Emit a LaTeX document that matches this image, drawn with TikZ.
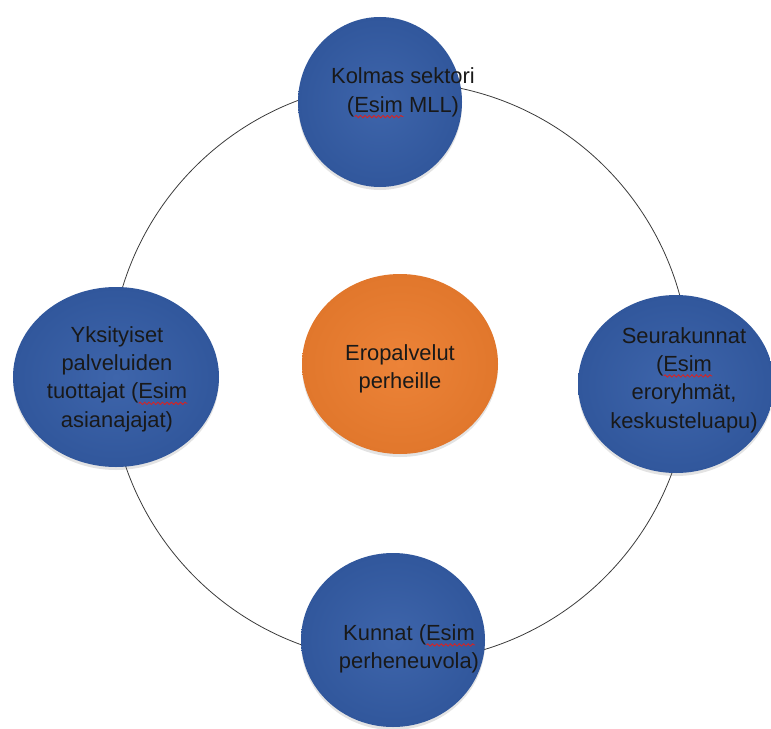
\documentclass[tikz,border=0pt]{standalone}
\usepackage{fontspec}
\setmainfont{Liberation Sans}
\usetikzlibrary{shapes.geometric,shadows,decorations.pathmorphing}

\definecolor{blobin}{HTML}{3E65AB}
\definecolor{blobout}{HTML}{31579C}
\definecolor{orangein}{HTML}{EC8338}
\definecolor{orangeout}{HTML}{E1772C}
\definecolor{ringgray}{HTML}{3A3A3A}
\definecolor{spellred}{HTML}{E0201C}

% red wavy underline
\newsavebox\swbox
\newcommand\sw[1]{\sbox\swbox{#1}%
  \rlap{\tikz[x=1pt,y=1pt,baseline=4.5pt]\draw[spellred,line width=.8pt,decorate,
    decoration={snake,amplitude=1.2pt,segment length=4.5pt}] (0,0) -- (\the\wd\swbox,0);}%
  \usebox\swbox}

\tikzset{
  blob/.style={ellipse,shade,inner color=blobin,outer color=blobout,
    drop shadow={shadow xshift=0bp,shadow yshift=-3bp,opacity=.22}},
  hub/.style={blob,inner color=orangein,outer color=orangeout},
  txt/.style={align=center,font=\fontsize{22}{28.5}\selectfont,text=black!90}
}

\begin{document}
\begin{tikzpicture}[x=1bp,y=-1bp]
\useasboundingbox (0,0) rectangle (771,729);

\node[draw=ringgray,line width=.8pt,circle,minimum size=580bp] (ring) at (400,372) {};

\node[blob,minimum width=164bp,minimum height=170bp] (kolmas) at (380,102) {};
\node[blob,minimum width=196bp,minimum height=178bp] (seura) at (676,384) {};
\node[blob,minimum width=206bp,minimum height=180bp] (yksit) at (116,377) {};
\node[blob,minimum width=184bp,minimum height=174bp] (kunnat) at (393,640) {};
\node[hub,minimum width=196bp,minimum height=180bp] (ero) at (400,364) {};

\node[txt] (kolmas-t) at (403,93) {Kolmas sektori\\(\sw{Esim} MLL)};
\node[txt] (seura-t) at (684,380) {Seurakunnat\\(\sw{Esim}\\eroryhmät,\\keskusteluapu)};
\node[txt] (yksit-t) at (117,379) {Yksityiset\\palveluiden\\tuottajat (\sw{Esim}\\asianajajat)};
\node[txt] (kunnat-t) at (409,649) {Kunnat (\sw{Esim}\\perheneuvola)};
\node[txt] (ero-t) at (400,369) {Eropalvelut\\perheille};
\end{tikzpicture}
\end{document}
